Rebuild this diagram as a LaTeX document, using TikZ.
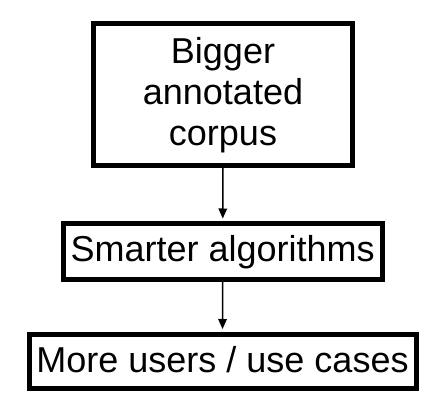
\documentclass[tikz,border=0pt]{standalone}
\usepackage{fontspec}
\setmainfont{Liberation Sans}
\usetikzlibrary{arrows.meta}
\begin{document}
\begin{tikzpicture}[x=1pt,y=-1pt,
  box/.style={draw=black,line width=5pt,rectangle,inner sep=0pt,fill=white},
  lbl/.style={anchor=base,inner sep=0pt,font=\fontsize{36}{41}\selectfont},
  arr/.style={line width=1.5pt,-{Triangle[length=10pt,width=8.5pt]},shorten >=2.5pt}]
\useasboundingbox (0,0) rectangle (447,404);
\node[box,minimum width=259pt,minimum height=141.5pt] (b1) at (223,94.25) {};
\node[box,minimum width=318.5pt,minimum height=55.5pt] (b2) at (222.75,251.25) {};
\node[box,minimum width=387pt,minimum height=54pt] (b3) at (222.5,361) {};
\node[lbl] (t1a) at (223,63.5) {Bigger};
\node[lbl] (t1b) at (223,104.5) {annotated};
\node[lbl] (t1c) at (223,145.5) {corpus};
\node[lbl] (t2) at (222.75,261.5) {Smarter algorithms};
\node[lbl] (t3) at (222.5,372) {More users / use cases};
\draw[arr] (b1.south) -- (b2.north);
\draw[arr] (b2.south) -- (b3.north);
\end{tikzpicture}
\end{document}
